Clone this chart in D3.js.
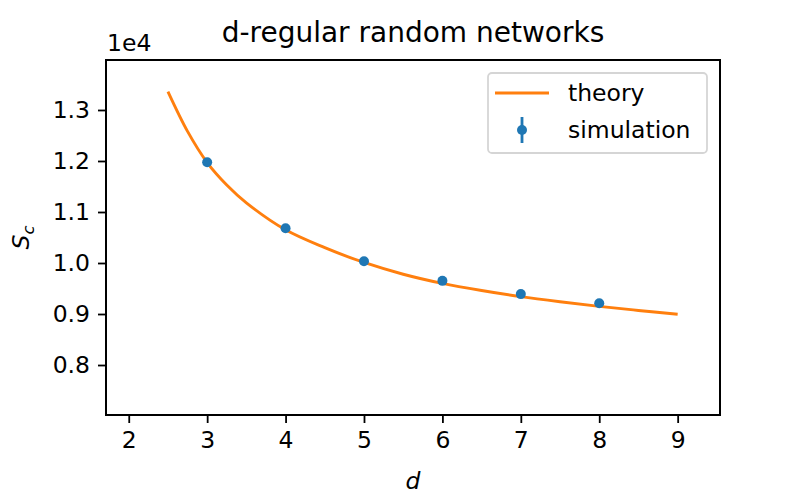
<!DOCTYPE html>
<html lang="en">
<head>
  <meta charset="UTF-8">
  <title>d-regular random networks</title>
  <script src="https://cdn.jsdelivr.net/npm/d3@7"></script>
  <style>
    * { margin: 0; padding: 0; }
    body { background: #fff; }
    svg text { font-family: "DejaVu Sans", sans-serif; fill: #000; }
  </style>
</head>
<body>
  <div id="chart"></div>
  <script>
  // theory curve (values in units of 1e4)
  var theoryD = [2.5, 2.75, 3, 3.25, 3.5, 4, 4.5, 5, 5.5, 6, 6.5, 7, 7.5, 8, 8.5, 9];
  var theorySc = [1.336, 1.258, 1.197, 1.153, 1.118, 1.065, 1.030, 1.001, 0.978, 0.960, 0.946, 0.934, 0.924, 0.915, 0.907, 0.8995];
  // simulation points
  var simD = [3, 4, 5, 6, 7, 8];
  var simSc = [1.1975, 1.068, 1.0035, 0.965, 0.939, 0.921];
  var simErr = [0.002, 0.002, 0.0015, 0.0015, 0.001, 0.001];
  var xTicks = [2, 3, 4, 5, 6, 7, 8, 9];
  var yTicks = [0.8, 0.9, 1.0, 1.1, 1.2, 1.3];

  var width = 800, height = 500;
  var margin = {left: 106, right: 80, top: 60, bottom: 85};
  var fs = 23.5;

  var svg = d3.select("#chart").append("svg")
      .attr("width", width)
      .attr("height", height);

  var x = d3.scaleLinear().domain([1.71, 9.54]).range([margin.left, width - margin.right]);
  var y = d3.scaleLinear().domain([0.702, 1.398]).range([height - margin.bottom, margin.top]);

  // axes
  var xAxis = svg.append("g")
      .attr("transform", "translate(0," + (height - margin.bottom) + ")")
      .call(d3.axisBottom(x).tickValues(xTicks).tickFormat(d3.format("d")).tickSize(8).tickPadding(8));
  var yAxis = svg.append("g")
      .attr("transform", "translate(" + margin.left + ",0)")
      .call(d3.axisLeft(y).tickValues(yTicks).tickFormat(d3.format(".1f")).tickSize(8).tickPadding(8));
  [xAxis, yAxis].forEach(function (g) {
    g.select(".domain").remove();
    g.selectAll(".tick line").attr("stroke", "#000").attr("stroke-width", 1.8);
    g.selectAll(".tick text").style("font-size", fs + "px").attr("fill", "#000");
  });

  // theory line
  var line = d3.line()
      .x(function (d) { return x(d[0]); })
      .y(function (d) { return y(d[1]); })
      .curve(d3.curveCatmullRom);
  svg.append("path")
      .datum(d3.zip(theoryD, theorySc))
      .attr("fill", "none")
      .attr("stroke", "#ff7f0e")
      .attr("stroke-width", 2.9)
      .attr("d", line);

  // simulation with error bars
  var sim = svg.selectAll(".sim")
      .data(d3.zip(simD, simSc, simErr))
      .enter().append("g")
      .attr("class", "sim");
  sim.append("line")
      .attr("x1", function (d) { return x(d[0]); })
      .attr("x2", function (d) { return x(d[0]); })
      .attr("y1", function (d) { return y(d[1] - d[2]); })
      .attr("y2", function (d) { return y(d[1] + d[2]); })
      .attr("stroke", "#1f77b4")
      .attr("stroke-width", 2.8);
  sim.append("circle")
      .attr("cx", function (d) { return x(d[0]); })
      .attr("cy", function (d) { return y(d[1]); })
      .attr("r", 5)
      .attr("fill", "#1f77b4");

  // frame
  svg.append("rect")
      .attr("x", margin.left)
      .attr("y", margin.top)
      .attr("width", width - margin.left - margin.right)
      .attr("height", height - margin.top - margin.bottom)
      .attr("fill", "none")
      .attr("stroke", "#000")
      .attr("stroke-width", 2);

  // texts
  svg.append("text")
      .attr("x", (margin.left + width - margin.right) / 2)
      .attr("y", 42)
      .attr("text-anchor", "middle")
      .style("font-size", "28px")
      .text("d-regular random networks");
  svg.append("text")
      .attr("x", margin.left + 1)
      .attr("y", 51)
      .style("font-size", fs + "px")
      .text("1e4");
  svg.append("text")
      .attr("x", (margin.left + width - margin.right) / 2)
      .attr("y", 489)
      .attr("text-anchor", "middle")
      .style("font-size", fs + "px")
      .style("font-style", "italic")
      .text("d");
  var ylab = svg.append("text")
      .attr("transform", "translate(29," + ((margin.top + height - margin.bottom) / 2) + ") rotate(-90)")
      .attr("text-anchor", "middle")
      .style("font-size", fs + "px")
      .style("font-style", "italic");
  ylab.append("tspan").text("S");
  ylab.append("tspan").attr("dy", 5).style("font-size", "16.5px").text("c");

  // legend
  var lg = svg.append("g").attr("transform", "translate(488,73)");
  lg.append("rect")
      .attr("width", 219).attr("height", 80)
      .attr("rx", 4)
      .attr("fill", "#fff").attr("fill-opacity", 0.8)
      .attr("stroke", "#d5d5d5").attr("stroke-width", 1.8);
  lg.append("line")
      .attr("x1", 7).attr("x2", 61).attr("y1", 20).attr("y2", 20)
      .attr("stroke", "#ff7f0e").attr("stroke-width", 2.9);
  lg.append("text").attr("x", 80).attr("y", 28).style("font-size", fs + "px").text("theory");
  lg.append("line")
      .attr("x1", 34).attr("x2", 34).attr("y1", 44).attr("y2", 70)
      .attr("stroke", "#1f77b4").attr("stroke-width", 2.8);
  lg.append("circle").attr("cx", 34).attr("cy", 57).attr("r", 5).attr("fill", "#1f77b4");
  lg.append("text").attr("x", 80).attr("y", 65).style("font-size", fs + "px").text("simulation");
  </script>
</body>
</html>
